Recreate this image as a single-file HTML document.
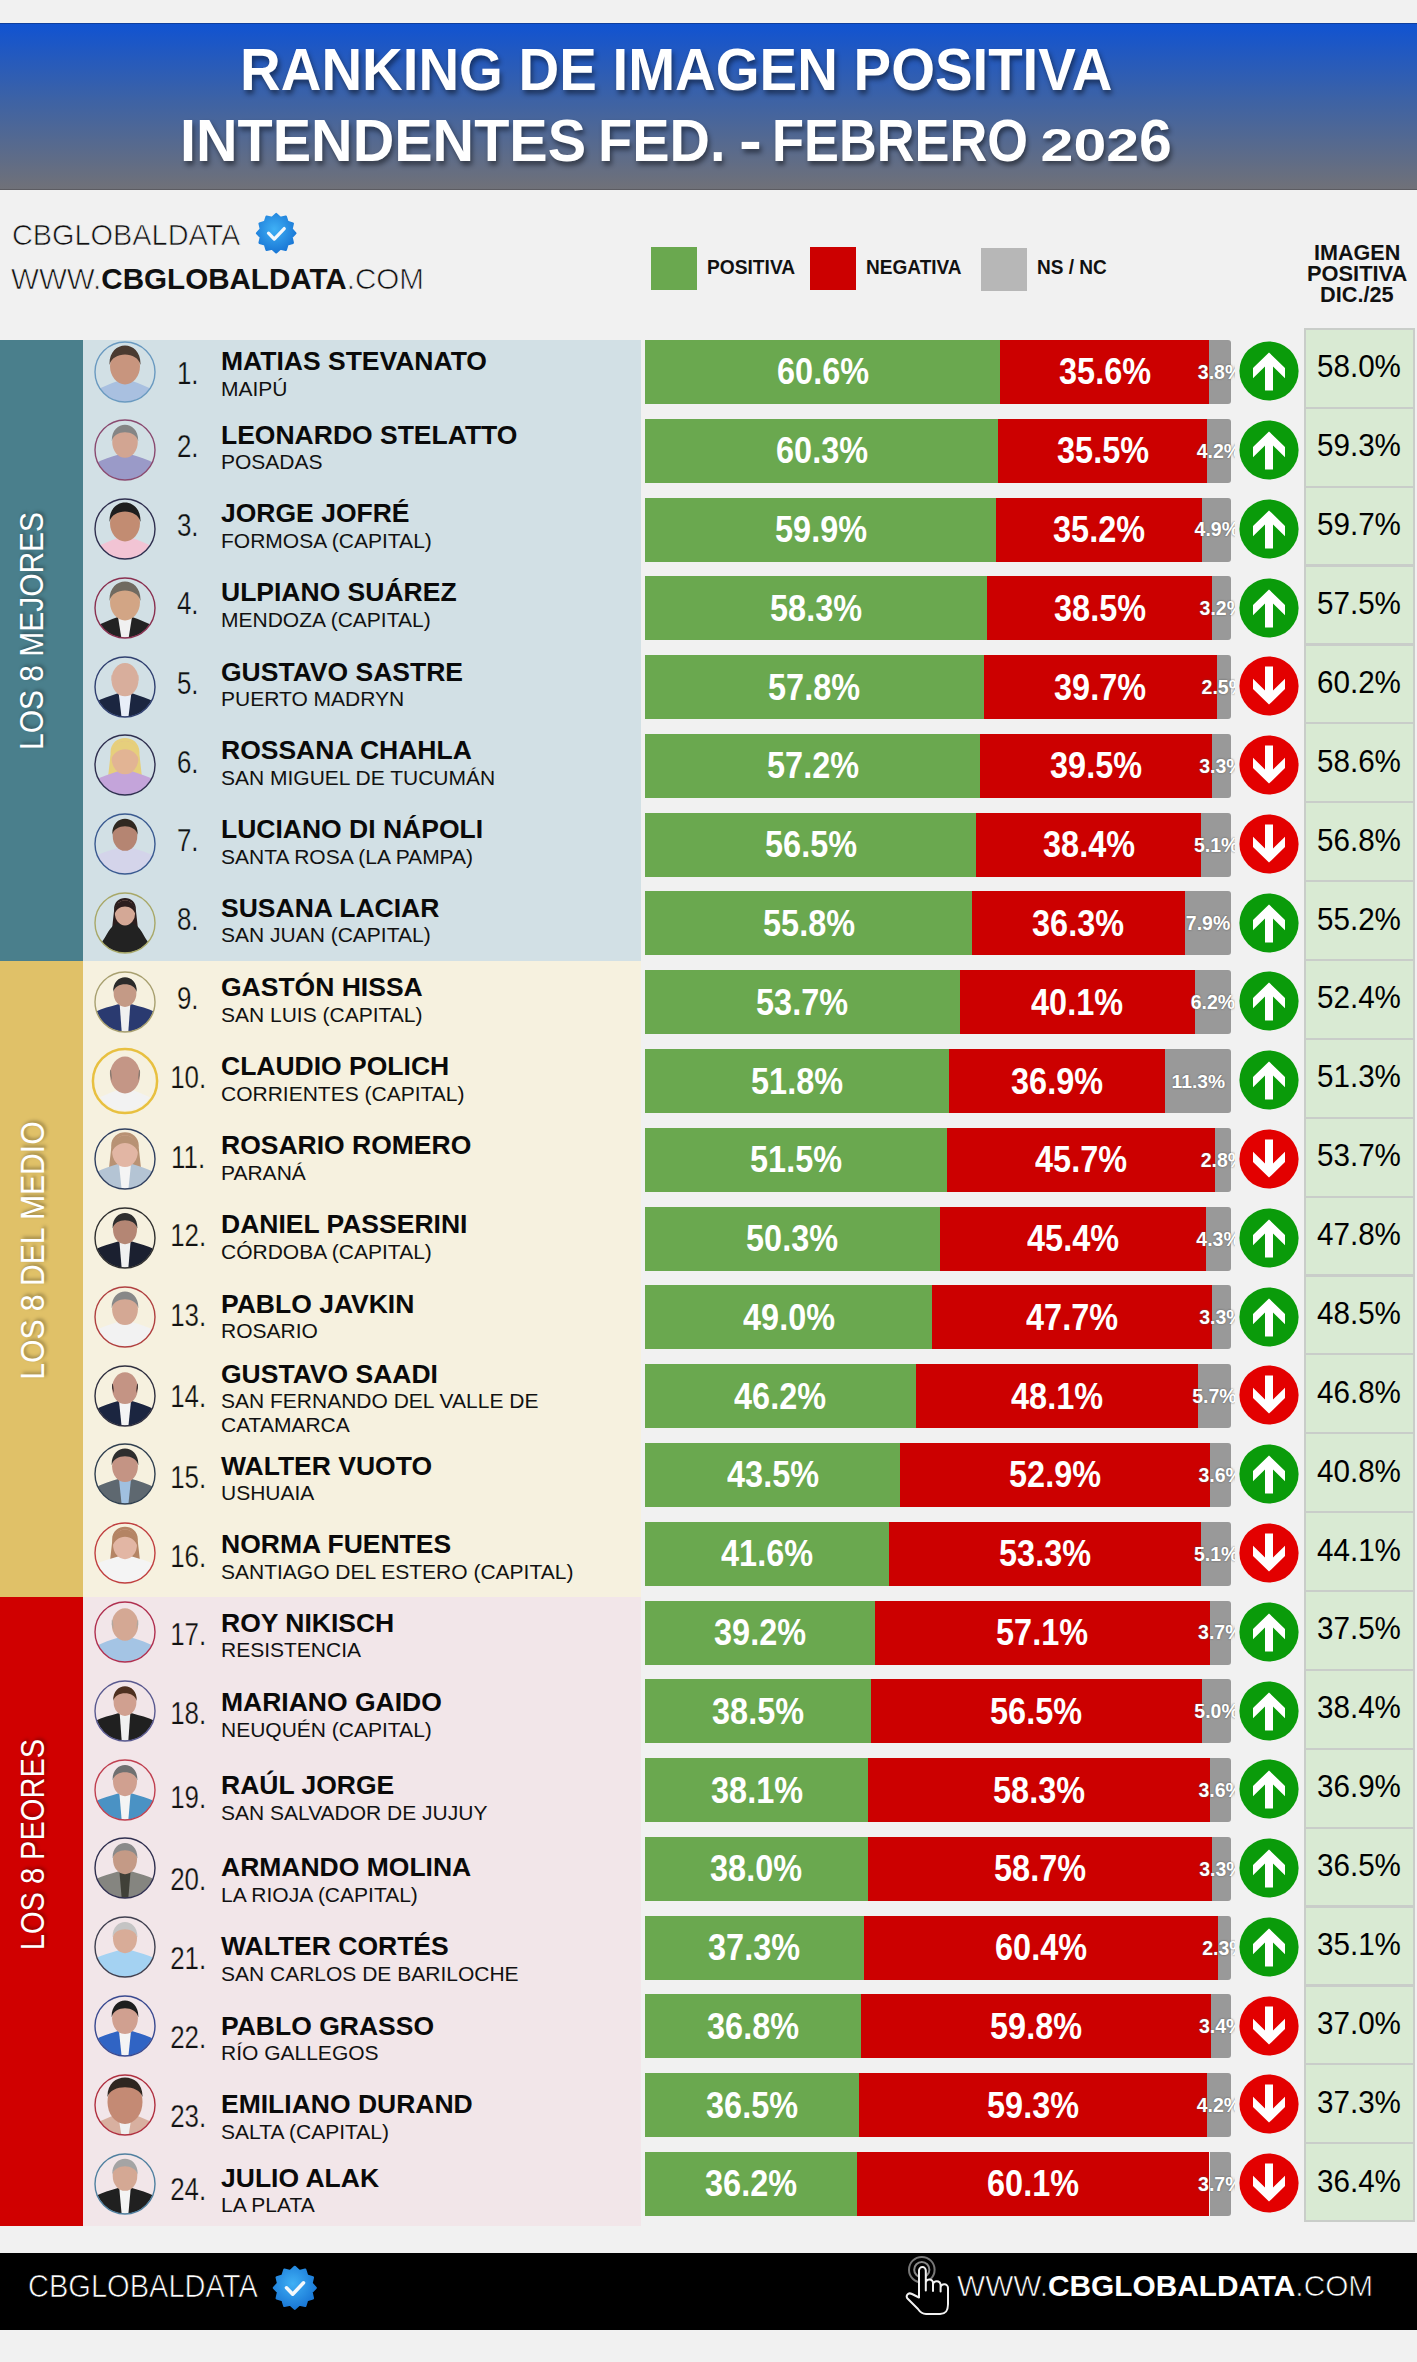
<!DOCTYPE html><html><head><meta charset="utf-8"><style>
*{margin:0;padding:0;box-sizing:border-box}
html,body{width:1417px;height:2362px;overflow:hidden;background:#f1f1f1;font-family:"Liberation Sans", sans-serif}
.t{position:absolute;white-space:nowrap;font-family:"Liberation Sans", sans-serif}
.b{position:absolute}
.ph{position:absolute;overflow:visible}
</style></head><body>
<div class="b" style="left:0;top:23px;width:1417px;height:167px;background:linear-gradient(#1153d1,#3c62a6 45%,#707178);border-top:1px solid #0f3f9e;border-bottom:1px solid #5c5c62"></div>
<div class="b" style="left:0;top:340px;width:83px;height:621px;background:#4a7f8c"></div>
<div class="b" style="left:83px;top:340px;width:557.6px;height:621px;background:#d2e0e5"></div>
<div class="b" style="left:0;top:961px;width:83px;height:636px;background:#e0c168"></div>
<div class="b" style="left:83px;top:961px;width:557.6px;height:636px;background:#f6f1df"></div>
<div class="b" style="left:0;top:1597px;width:83px;height:628.5px;background:#d00000"></div>
<div class="b" style="left:83px;top:1597px;width:557.6px;height:628.5px;background:#f2e6e9"></div>
<div class="b" style="left:1303.5px;top:328.4px;width:111.5px;height:1894px;background:#d9ead3;border:2px solid #c9cdc9"></div>
<div class="b" style="left:1304px;top:406.70px;width:110px;height:2.2px;background:#c9cdc9"></div>
<div class="b" style="left:1304px;top:485.58px;width:110px;height:2.2px;background:#c9cdc9"></div>
<div class="b" style="left:1304px;top:564.46px;width:110px;height:2.2px;background:#c9cdc9"></div>
<div class="b" style="left:1304px;top:643.35px;width:110px;height:2.2px;background:#c9cdc9"></div>
<div class="b" style="left:1304px;top:722.23px;width:110px;height:2.2px;background:#c9cdc9"></div>
<div class="b" style="left:1304px;top:801.11px;width:110px;height:2.2px;background:#c9cdc9"></div>
<div class="b" style="left:1304px;top:879.99px;width:110px;height:2.2px;background:#c9cdc9"></div>
<div class="b" style="left:1304px;top:958.87px;width:110px;height:2.2px;background:#c9cdc9"></div>
<div class="b" style="left:1304px;top:1037.75px;width:110px;height:2.2px;background:#c9cdc9"></div>
<div class="b" style="left:1304px;top:1116.64px;width:110px;height:2.2px;background:#c9cdc9"></div>
<div class="b" style="left:1304px;top:1195.52px;width:110px;height:2.2px;background:#c9cdc9"></div>
<div class="b" style="left:1304px;top:1274.40px;width:110px;height:2.2px;background:#c9cdc9"></div>
<div class="b" style="left:1304px;top:1353.28px;width:110px;height:2.2px;background:#c9cdc9"></div>
<div class="b" style="left:1304px;top:1432.16px;width:110px;height:2.2px;background:#c9cdc9"></div>
<div class="b" style="left:1304px;top:1511.05px;width:110px;height:2.2px;background:#c9cdc9"></div>
<div class="b" style="left:1304px;top:1589.93px;width:110px;height:2.2px;background:#c9cdc9"></div>
<div class="b" style="left:1304px;top:1668.81px;width:110px;height:2.2px;background:#c9cdc9"></div>
<div class="b" style="left:1304px;top:1747.69px;width:110px;height:2.2px;background:#c9cdc9"></div>
<div class="b" style="left:1304px;top:1826.57px;width:110px;height:2.2px;background:#c9cdc9"></div>
<div class="b" style="left:1304px;top:1905.45px;width:110px;height:2.2px;background:#c9cdc9"></div>
<div class="b" style="left:1304px;top:1984.34px;width:110px;height:2.2px;background:#c9cdc9"></div>
<div class="b" style="left:1304px;top:2063.22px;width:110px;height:2.2px;background:#c9cdc9"></div>
<div class="b" style="left:1304px;top:2142.10px;width:110px;height:2.2px;background:#c9cdc9"></div>
<div class="b" style="left:0;top:2252.5px;width:1417px;height:77.5px;background:#000"></div>
<div class="b" style="left:645.0px;top:340.00px;width:355.24px;height:64px;background:#6aa84f"></div>
<div class="b" style="left:1000.24px;top:340.00px;width:208.69px;height:64px;background:#cc0000"></div>
<div class="b" style="left:1208.92px;top:340.00px;width:22.28px;height:64px;background:#999999;border-radius:0 3px 3px 0"></div>
<svg class="ph" style="left:92.50px;top:339.50px" width="64" height="64" viewBox="-32 -32 64 64"><defs><clipPath id="c0"><circle r="29.7"/></clipPath></defs><g clip-path="url(#c0)"><path d="M-34,40 L-34,22.00 C-25.84,16.00 -16,12.00 -7,9.00 L7,9.00 C16,12.00 25.84,16.00 34,22.00 L34,40 Z" fill="#a9c0e0"/><g transform="translate(0,9.00) scale(1.0) translate(0,-9)"><rect x="-6.5" y="2" width="13" height="8" fill="#c8957e"/><ellipse cx="0" cy="-6" rx="15" ry="18.5" fill="#c8957e"/><path d="M-15.5,-7 C-16.5,-33 16.5,-33 15.5,-7 C12.5,-21 -12.5,-21 -15.5,-7 Z" fill="#4a3a30"/></g></g><circle r="30.0" fill="none" stroke="#6a9ac0" stroke-width="1.4"/></svg>
<svg class="ph" style="left:1238.20px;top:340.20px" width="62" height="62" viewBox="-31 -31 62 62"><circle r="29.6" fill="#0a9b0a"/><path d="M0,-18.6 L16,-3 L16,7.3 L4,-4.6 L4,19.5 L-4,19.5 L-4,-4.6 L-16,7.3 L-16,-3 Z" fill="#fff"/></svg>
<div class="b" style="left:645.0px;top:418.78px;width:353.48px;height:64px;background:#6aa84f"></div>
<div class="b" style="left:998.48px;top:418.78px;width:208.10px;height:64px;background:#cc0000"></div>
<div class="b" style="left:1206.58px;top:418.78px;width:24.62px;height:64px;background:#999999;border-radius:0 3px 3px 0"></div>
<svg class="ph" style="left:92.50px;top:418.28px" width="64" height="64" viewBox="-32 -32 64 64"><defs><clipPath id="c1"><circle r="29.7"/></clipPath></defs><g clip-path="url(#c1)"><path d="M-34,40 L-34,16.00 C-25.84,10.00 -16,7.80 -7,4.80 L7,4.80 C16,7.80 25.84,10.00 34,16.00 L34,40 Z" fill="#9a9ac8"/><g transform="translate(0,4.80) scale(0.85) translate(0,-9)"><rect x="-6.5" y="2" width="13" height="8" fill="#d2a592"/><ellipse cx="0" cy="-6" rx="15" ry="18.5" fill="#d2a592"/><path d="M-15.5,-7 C-16.5,-33 16.5,-33 15.5,-7 C12.5,-21 -12.5,-21 -15.5,-7 Z" fill="#858585"/></g></g><circle r="30.0" fill="none" stroke="#8a4a70" stroke-width="1.4"/></svg>
<svg class="ph" style="left:1238.20px;top:418.98px" width="62" height="62" viewBox="-31 -31 62 62"><circle r="29.6" fill="#0a9b0a"/><path d="M0,-18.6 L16,-3 L16,7.3 L4,-4.6 L4,19.5 L-4,19.5 L-4,-4.6 L-16,7.3 L-16,-3 Z" fill="#fff"/></svg>
<div class="b" style="left:645.0px;top:497.57px;width:351.13px;height:64px;background:#6aa84f"></div>
<div class="b" style="left:996.13px;top:497.57px;width:206.34px;height:64px;background:#cc0000"></div>
<div class="b" style="left:1202.48px;top:497.57px;width:28.72px;height:64px;background:#999999;border-radius:0 3px 3px 0"></div>
<svg class="ph" style="left:92.50px;top:497.07px" width="64" height="64" viewBox="-32 -32 64 64"><defs><clipPath id="c2"><circle r="29.7"/></clipPath></defs><g clip-path="url(#c2)"><path d="M-34,40 L-34,22.00 C-25.84,16.00 -16,12.00 -7,9.00 L7,9.00 C16,12.00 25.84,16.00 34,22.00 L34,40 Z" fill="#f2c4d4"/><g transform="translate(0,9.00) scale(1.0) translate(0,-9)"><rect x="-6.5" y="2" width="13" height="8" fill="#c28c72"/><ellipse cx="0" cy="-6" rx="15" ry="18.5" fill="#c28c72"/><path d="M-15.5,-7 C-16.5,-33 16.5,-33 15.5,-7 C12.5,-21 -12.5,-21 -15.5,-7 Z" fill="#1e1e1e"/></g></g><circle r="30.0" fill="none" stroke="#303050" stroke-width="1.4"/></svg>
<svg class="ph" style="left:1238.20px;top:497.77px" width="62" height="62" viewBox="-31 -31 62 62"><circle r="29.6" fill="#0a9b0a"/><path d="M0,-18.6 L16,-3 L16,7.3 L4,-4.6 L4,19.5 L-4,19.5 L-4,-4.6 L-16,7.3 L-16,-3 Z" fill="#fff"/></svg>
<div class="b" style="left:645.0px;top:576.35px;width:341.75px;height:64px;background:#6aa84f"></div>
<div class="b" style="left:986.75px;top:576.35px;width:225.69px;height:64px;background:#cc0000"></div>
<div class="b" style="left:1212.44px;top:576.35px;width:18.76px;height:64px;background:#999999;border-radius:0 3px 3px 0"></div>
<svg class="ph" style="left:92.50px;top:575.85px" width="64" height="64" viewBox="-32 -32 64 64"><defs><clipPath id="c3"><circle r="29.7"/></clipPath></defs><g clip-path="url(#c3)"><path d="M-34,40 L-34,22.00 C-25.84,16.00 -16,12.00 -7,9.00 L7,9.00 C16,12.00 25.84,16.00 34,22.00 L34,40 Z" fill="#222222"/><path d="M-7.00,9.00 L7.00,9.00 L3,34 L-3,34 Z" fill="#f0f0f0"/><g transform="translate(0,9.00) scale(1.0) translate(0,-9)"><rect x="-6.5" y="2" width="13" height="8" fill="#d2a585"/><ellipse cx="0" cy="-6" rx="15" ry="18.5" fill="#d2a585"/><path d="M-15.5,-7 C-16.5,-33 16.5,-33 15.5,-7 C12.5,-21 -12.5,-21 -15.5,-7 Z" fill="#706a60"/></g></g><circle r="30.0" fill="none" stroke="#8a3050" stroke-width="1.4"/></svg>
<svg class="ph" style="left:1238.20px;top:576.55px" width="62" height="62" viewBox="-31 -31 62 62"><circle r="29.6" fill="#0a9b0a"/><path d="M0,-18.6 L16,-3 L16,7.3 L4,-4.6 L4,19.5 L-4,19.5 L-4,-4.6 L-16,7.3 L-16,-3 Z" fill="#fff"/></svg>
<div class="b" style="left:645.0px;top:655.13px;width:338.82px;height:64px;background:#6aa84f"></div>
<div class="b" style="left:983.82px;top:655.13px;width:232.72px;height:64px;background:#cc0000"></div>
<div class="b" style="left:1216.55px;top:655.13px;width:14.65px;height:64px;background:#999999;border-radius:0 3px 3px 0"></div>
<svg class="ph" style="left:92.50px;top:654.63px" width="64" height="64" viewBox="-32 -32 64 64"><defs><clipPath id="c4"><circle r="29.7"/></clipPath></defs><g clip-path="url(#c4)"><path d="M-34,40 L-34,18.00 C-25.84,12.00 -16,9.20 -7,6.20 L7,6.20 C16,9.20 25.84,12.00 34,18.00 L34,40 Z" fill="#1b2640"/><path d="M-6.30,6.20 L6.30,6.20 L3,34 L-3,34 Z" fill="#e8eef8"/><g transform="translate(0,6.20) scale(0.9) translate(0,-9)"><rect x="-6.5" y="2" width="13" height="8" fill="#d8ae9c"/><ellipse cx="0" cy="-6" rx="15" ry="18.5" fill="#d8ae9c"/><path d="M-15,-6 C-15.5,-15 -13.5,-13 -13,0 Z" fill="#d8b0a0"/><path d="M15,-6 C15.5,-15 13.5,-13 13,0 Z" fill="#d8b0a0"/></g></g><circle r="30.0" fill="none" stroke="#304070" stroke-width="1.4"/></svg>
<svg class="ph" style="left:1238.20px;top:655.33px" width="62" height="62" viewBox="-31 -31 62 62"><circle r="29.6" fill="#e30000"/><path d="M0,-18.6 L16,-3 L16,7.3 L4,-4.6 L4,19.5 L-4,19.5 L-4,-4.6 L-16,7.3 L-16,-3 Z" fill="#fff" transform="rotate(180)"/></svg>
<div class="b" style="left:645.0px;top:733.91px;width:335.31px;height:64px;background:#6aa84f"></div>
<div class="b" style="left:980.31px;top:733.91px;width:231.55px;height:64px;background:#cc0000"></div>
<div class="b" style="left:1211.86px;top:733.91px;width:19.34px;height:64px;background:#999999;border-radius:0 3px 3px 0"></div>
<svg class="ph" style="left:92.50px;top:733.41px" width="64" height="64" viewBox="-32 -32 64 64"><defs><clipPath id="c5"><circle r="29.7"/></clipPath></defs><g clip-path="url(#c5)"><g transform="translate(0,6.20) scale(0.9) translate(0,-9)"><path d="M-16,-10 C-18,-34 18,-34 16,-10 L20,26 L-20,26 Z" fill="#e6cf7c"/></g><path d="M-34,40 L-34,18.00 C-25.84,12.00 -16,9.20 -7,6.20 L7,6.20 C16,9.20 25.84,12.00 34,18.00 L34,40 Z" fill="#c4a4da"/><g transform="translate(0,6.20) scale(0.9) translate(0,-9)"><rect x="-6.5" y="2" width="13" height="8" fill="#e2b494"/><ellipse cx="0" cy="-6" rx="15" ry="18.5" fill="#e2b494"/><path d="M-16,-2 C-17,-32 17,-32 16,-2 C12,-20 -12,-20 -16,-2 Z" fill="#e6cf7c"/></g></g><circle r="30.0" fill="none" stroke="#303050" stroke-width="1.4"/></svg>
<svg class="ph" style="left:1238.20px;top:734.11px" width="62" height="62" viewBox="-31 -31 62 62"><circle r="29.6" fill="#e30000"/><path d="M0,-18.6 L16,-3 L16,7.3 L4,-4.6 L4,19.5 L-4,19.5 L-4,-4.6 L-16,7.3 L-16,-3 Z" fill="#fff" transform="rotate(180)"/></svg>
<div class="b" style="left:645.0px;top:812.70px;width:331.20px;height:64px;background:#6aa84f"></div>
<div class="b" style="left:976.20px;top:812.70px;width:225.10px;height:64px;background:#cc0000"></div>
<div class="b" style="left:1201.30px;top:812.70px;width:29.90px;height:64px;background:#999999;border-radius:0 3px 3px 0"></div>
<svg class="ph" style="left:92.50px;top:812.20px" width="64" height="64" viewBox="-32 -32 64 64"><defs><clipPath id="c6"><circle r="29.7"/></clipPath></defs><g clip-path="url(#c6)"><path d="M-34,40 L-34,14.80 C-25.84,8.80 -16,6.96 -7,3.96 L7,3.96 C16,6.96 25.84,8.80 34,14.80 L34,40 Z" fill="#d4d4ea"/><g transform="translate(0,3.96) scale(0.82) translate(0,-9)"><rect x="-6.5" y="2" width="13" height="8" fill="#b58572"/><ellipse cx="0" cy="-6" rx="15" ry="18.5" fill="#b58572"/><path d="M-15.5,-7 C-16.5,-33 16.5,-33 15.5,-7 C12.5,-21 -12.5,-21 -15.5,-7 Z" fill="#302820"/></g></g><circle r="30.0" fill="none" stroke="#3a5a90" stroke-width="1.4"/></svg>
<svg class="ph" style="left:1238.20px;top:812.90px" width="62" height="62" viewBox="-31 -31 62 62"><circle r="29.6" fill="#e30000"/><path d="M0,-18.6 L16,-3 L16,7.3 L4,-4.6 L4,19.5 L-4,19.5 L-4,-4.6 L-16,7.3 L-16,-3 Z" fill="#fff" transform="rotate(180)"/></svg>
<div class="b" style="left:645.0px;top:891.48px;width:327.10px;height:64px;background:#6aa84f"></div>
<div class="b" style="left:972.10px;top:891.48px;width:212.79px;height:64px;background:#cc0000"></div>
<div class="b" style="left:1184.89px;top:891.48px;width:46.31px;height:64px;background:#999999;border-radius:0 3px 3px 0"></div>
<svg class="ph" style="left:92.50px;top:890.98px" width="64" height="64" viewBox="-32 -32 64 64"><defs><clipPath id="c7"><circle r="29.7"/></clipPath></defs><g clip-path="url(#c7)"><g transform="translate(0,0.04) scale(0.68) translate(0,-9)"><path d="M-16,-10 C-18,-34 18,-34 16,-10 L20,26 L-20,26 Z" fill="#2c1e1e"/></g><path d="M-24,40 L-24,20.00 C-18.24,14.00 -16,3.04 -7,0.04 L7,0.04 C16,3.04 18.24,14.00 24,20.00 L24,40 Z" fill="#222222"/><g transform="translate(0,0.04) scale(0.68) translate(0,-9)"><rect x="-6.5" y="2" width="13" height="8" fill="#d4a896"/><ellipse cx="0" cy="-6" rx="15" ry="18.5" fill="#d4a896"/><path d="M-16,-2 C-17,-32 17,-32 16,-2 C12,-20 -12,-20 -16,-2 Z" fill="#2c1e1e"/></g></g><circle r="30.0" fill="none" stroke="#a8a868" stroke-width="1.4"/></svg>
<svg class="ph" style="left:1238.20px;top:891.68px" width="62" height="62" viewBox="-31 -31 62 62"><circle r="29.6" fill="#0a9b0a"/><path d="M0,-18.6 L16,-3 L16,7.3 L4,-4.6 L4,19.5 L-4,19.5 L-4,-4.6 L-16,7.3 L-16,-3 Z" fill="#fff"/></svg>
<div class="b" style="left:645.0px;top:970.26px;width:314.79px;height:64px;background:#6aa84f"></div>
<div class="b" style="left:959.79px;top:970.26px;width:235.07px;height:64px;background:#cc0000"></div>
<div class="b" style="left:1194.86px;top:970.26px;width:36.34px;height:64px;background:#999999;border-radius:0 3px 3px 0"></div>
<svg class="ph" style="left:92.50px;top:969.76px" width="64" height="64" viewBox="-32 -32 64 64"><defs><clipPath id="c8"><circle r="29.7"/></clipPath></defs><g clip-path="url(#c8)"><path d="M-34,40 L-34,12.40 C-25.84,6.40 -16,5.28 -7,2.28 L7,2.28 C16,5.28 25.84,6.40 34,12.40 L34,40 Z" fill="#2a3a70"/><path d="M-5.32,2.28 L5.32,2.28 L3,34 L-3,34 Z" fill="#f0f0f0"/><g transform="translate(0,2.28) scale(0.76) translate(0,-9)"><rect x="-6.5" y="2" width="13" height="8" fill="#c49a86"/><ellipse cx="0" cy="-6" rx="15" ry="18.5" fill="#c49a86"/><path d="M-15.5,-7 C-16.5,-33 16.5,-33 15.5,-7 C12.5,-21 -12.5,-21 -15.5,-7 Z" fill="#2a2a2a"/></g></g><circle r="30.0" fill="none" stroke="#a8a070" stroke-width="1.4"/></svg>
<svg class="ph" style="left:1238.20px;top:970.46px" width="62" height="62" viewBox="-31 -31 62 62"><circle r="29.6" fill="#0a9b0a"/><path d="M0,-18.6 L16,-3 L16,7.3 L4,-4.6 L4,19.5 L-4,19.5 L-4,-4.6 L-16,7.3 L-16,-3 Z" fill="#fff"/></svg>
<div class="b" style="left:645.0px;top:1049.04px;width:303.65px;height:64px;background:#6aa84f"></div>
<div class="b" style="left:948.65px;top:1049.04px;width:216.31px;height:64px;background:#cc0000"></div>
<div class="b" style="left:1164.96px;top:1049.04px;width:66.24px;height:64px;background:#999999;border-radius:0 3px 3px 0"></div>
<svg class="ph" style="left:92.50px;top:1048.54px" width="64" height="64" viewBox="-32 -32 64 64"><defs><clipPath id="c9"><circle r="29.7"/></clipPath></defs><g clip-path="url(#c9)"><path d="M-34,40 L-34,22.00 C-25.84,16.00 -16,12.00 -7,9.00 L7,9.00 C16,12.00 25.84,16.00 34,22.00 L34,40 Z" fill="#f2f2f2"/><g transform="translate(0,9.00) scale(1.0) translate(0,-9)"><rect x="-6.5" y="2" width="13" height="8" fill="#c49686"/><ellipse cx="0" cy="-6" rx="15" ry="18.5" fill="#c49686"/><path d="M-15,-6 C-15.5,-15 -13.5,-13 -13,0 Z" fill="#8a7a70"/><path d="M15,-6 C15.5,-15 13.5,-13 13,0 Z" fill="#8a7a70"/></g></g><circle r="32.1" fill="none" stroke="#e8c040" stroke-width="2.5"/></svg>
<svg class="ph" style="left:1238.20px;top:1049.24px" width="62" height="62" viewBox="-31 -31 62 62"><circle r="29.6" fill="#0a9b0a"/><path d="M0,-18.6 L16,-3 L16,7.3 L4,-4.6 L4,19.5 L-4,19.5 L-4,-4.6 L-16,7.3 L-16,-3 Z" fill="#fff"/></svg>
<div class="b" style="left:645.0px;top:1127.83px;width:301.89px;height:64px;background:#6aa84f"></div>
<div class="b" style="left:946.89px;top:1127.83px;width:267.89px;height:64px;background:#cc0000"></div>
<div class="b" style="left:1214.79px;top:1127.83px;width:16.41px;height:64px;background:#999999;border-radius:0 3px 3px 0"></div>
<svg class="ph" style="left:92.50px;top:1127.33px" width="64" height="64" viewBox="-32 -32 64 64"><defs><clipPath id="c10"><circle r="29.7"/></clipPath></defs><g clip-path="url(#c10)"><g transform="translate(0,5.08) scale(0.86) translate(0,-9)"><path d="M-16,-10 C-18,-34 18,-34 16,-10 L20,26 L-20,26 Z" fill="#b89274"/></g><path d="M-34,40 L-34,16.40 C-25.84,10.40 -16,8.08 -7,5.08 L7,5.08 C16,8.08 25.84,10.40 34,16.40 L34,40 Z" fill="#b4c4d4"/><path d="M-6.02,5.08 L6.02,5.08 L3,34 L-3,34 Z" fill="#f4f4f4"/><g transform="translate(0,5.08) scale(0.86) translate(0,-9)"><rect x="-6.5" y="2" width="13" height="8" fill="#e2b6a4"/><ellipse cx="0" cy="-6" rx="15" ry="18.5" fill="#e2b6a4"/><path d="M-16,-2 C-17,-32 17,-32 16,-2 C12,-20 -12,-20 -16,-2 Z" fill="#b89274"/></g></g><circle r="30.0" fill="none" stroke="#304060" stroke-width="1.4"/></svg>
<svg class="ph" style="left:1238.20px;top:1128.03px" width="62" height="62" viewBox="-31 -31 62 62"><circle r="29.6" fill="#e30000"/><path d="M0,-18.6 L16,-3 L16,7.3 L4,-4.6 L4,19.5 L-4,19.5 L-4,-4.6 L-16,7.3 L-16,-3 Z" fill="#fff" transform="rotate(180)"/></svg>
<div class="b" style="left:645.0px;top:1206.61px;width:294.86px;height:64px;background:#6aa84f"></div>
<div class="b" style="left:939.86px;top:1206.61px;width:266.13px;height:64px;background:#cc0000"></div>
<div class="b" style="left:1205.99px;top:1206.61px;width:25.21px;height:64px;background:#999999;border-radius:0 3px 3px 0"></div>
<svg class="ph" style="left:92.50px;top:1206.11px" width="64" height="64" viewBox="-32 -32 64 64"><defs><clipPath id="c11"><circle r="29.7"/></clipPath></defs><g clip-path="url(#c11)"><path d="M-34,40 L-34,14.00 C-25.84,8.00 -16,6.40 -7,3.40 L7,3.40 C16,6.40 25.84,8.00 34,14.00 L34,40 Z" fill="#1b2030"/><path d="M-5.60,3.40 L5.60,3.40 L3,34 L-3,34 Z" fill="#f0f0f0"/><g transform="translate(0,3.40) scale(0.8) translate(0,-9)"><rect x="-6.5" y="2" width="13" height="8" fill="#b48674"/><ellipse cx="0" cy="-6" rx="15" ry="18.5" fill="#b48674"/><path d="M-15.5,-7 C-16.5,-33 16.5,-33 15.5,-7 C12.5,-21 -12.5,-21 -15.5,-7 Z" fill="#2e2e2e"/></g></g><circle r="30.0" fill="none" stroke="#303030" stroke-width="1.4"/></svg>
<svg class="ph" style="left:1238.20px;top:1206.81px" width="62" height="62" viewBox="-31 -31 62 62"><circle r="29.6" fill="#0a9b0a"/><path d="M0,-18.6 L16,-3 L16,7.3 L4,-4.6 L4,19.5 L-4,19.5 L-4,-4.6 L-16,7.3 L-16,-3 Z" fill="#fff"/></svg>
<div class="b" style="left:645.0px;top:1285.39px;width:287.24px;height:64px;background:#6aa84f"></div>
<div class="b" style="left:932.24px;top:1285.39px;width:279.62px;height:64px;background:#cc0000"></div>
<div class="b" style="left:1211.86px;top:1285.39px;width:19.34px;height:64px;background:#999999;border-radius:0 3px 3px 0"></div>
<svg class="ph" style="left:92.50px;top:1284.89px" width="64" height="64" viewBox="-32 -32 64 64"><defs><clipPath id="c12"><circle r="29.7"/></clipPath></defs><g clip-path="url(#c12)"><path d="M-34,40 L-34,16.40 C-25.84,10.40 -16,8.08 -7,5.08 L7,5.08 C16,8.08 25.84,10.40 34,16.40 L34,40 Z" fill="#f2f2f2"/><g transform="translate(0,5.08) scale(0.86) translate(0,-9)"><rect x="-6.5" y="2" width="13" height="8" fill="#d4a894"/><ellipse cx="0" cy="-6" rx="15" ry="18.5" fill="#d4a894"/><path d="M-15.5,-7 C-16.5,-33 16.5,-33 15.5,-7 C12.5,-21 -12.5,-21 -15.5,-7 Z" fill="#888888"/></g></g><circle r="30.0" fill="none" stroke="#b04040" stroke-width="1.4"/></svg>
<svg class="ph" style="left:1238.20px;top:1285.59px" width="62" height="62" viewBox="-31 -31 62 62"><circle r="29.6" fill="#0a9b0a"/><path d="M0,-18.6 L16,-3 L16,7.3 L4,-4.6 L4,19.5 L-4,19.5 L-4,-4.6 L-16,7.3 L-16,-3 Z" fill="#fff"/></svg>
<div class="b" style="left:645.0px;top:1364.17px;width:270.82px;height:64px;background:#6aa84f"></div>
<div class="b" style="left:915.82px;top:1364.17px;width:281.96px;height:64px;background:#cc0000"></div>
<div class="b" style="left:1197.79px;top:1364.17px;width:33.41px;height:64px;background:#999999;border-radius:0 3px 3px 0"></div>
<svg class="ph" style="left:92.50px;top:1363.67px" width="64" height="64" viewBox="-32 -32 64 64"><defs><clipPath id="c13"><circle r="29.7"/></clipPath></defs><g clip-path="url(#c13)"><path d="M-34,40 L-34,16.40 C-25.84,10.40 -16,8.08 -7,5.08 L7,5.08 C16,8.08 25.84,10.40 34,16.40 L34,40 Z" fill="#1b2540"/><path d="M-6.02,5.08 L6.02,5.08 L3,34 L-3,34 Z" fill="#f4f4f4"/><g transform="translate(0,5.08) scale(0.86) translate(0,-9)"><rect x="-6.5" y="2" width="13" height="8" fill="#c49484"/><ellipse cx="0" cy="-6" rx="15" ry="18.5" fill="#c49484"/><path d="M-15,-6 C-15.5,-15 -13.5,-13 -13,0 Z" fill="#3a3030"/><path d="M15,-6 C15.5,-15 13.5,-13 13,0 Z" fill="#3a3030"/></g></g><circle r="30.0" fill="none" stroke="#303040" stroke-width="1.4"/></svg>
<svg class="ph" style="left:1238.20px;top:1364.37px" width="62" height="62" viewBox="-31 -31 62 62"><circle r="29.6" fill="#e30000"/><path d="M0,-18.6 L16,-3 L16,7.3 L4,-4.6 L4,19.5 L-4,19.5 L-4,-4.6 L-16,7.3 L-16,-3 Z" fill="#fff" transform="rotate(180)"/></svg>
<div class="b" style="left:645.0px;top:1442.96px;width:255.00px;height:64px;background:#6aa84f"></div>
<div class="b" style="left:900.00px;top:1442.96px;width:310.10px;height:64px;background:#cc0000"></div>
<div class="b" style="left:1210.10px;top:1442.96px;width:21.10px;height:64px;background:#999999;border-radius:0 3px 3px 0"></div>
<svg class="ph" style="left:92.50px;top:1442.46px" width="64" height="64" viewBox="-32 -32 64 64"><defs><clipPath id="c14"><circle r="29.7"/></clipPath></defs><g clip-path="url(#c14)"><path d="M-34,40 L-34,16.40 C-25.84,10.40 -16,8.08 -7,5.08 L7,5.08 C16,8.08 25.84,10.40 34,16.40 L34,40 Z" fill="#5e6870"/><path d="M-6.02,5.08 L6.02,5.08 L3,34 L-3,34 Z" fill="#a0c0e0"/><g transform="translate(0,5.08) scale(0.86) translate(0,-9)"><rect x="-6.5" y="2" width="13" height="8" fill="#c49484"/><ellipse cx="0" cy="-6" rx="15" ry="18.5" fill="#c49484"/><path d="M-15.5,-7 C-16.5,-33 16.5,-33 15.5,-7 C12.5,-21 -12.5,-21 -15.5,-7 Z" fill="#2e2e2e"/></g></g><circle r="30.0" fill="none" stroke="#304050" stroke-width="1.4"/></svg>
<svg class="ph" style="left:1238.20px;top:1443.16px" width="62" height="62" viewBox="-31 -31 62 62"><circle r="29.6" fill="#0a9b0a"/><path d="M0,-18.6 L16,-3 L16,7.3 L4,-4.6 L4,19.5 L-4,19.5 L-4,-4.6 L-16,7.3 L-16,-3 Z" fill="#fff"/></svg>
<div class="b" style="left:645.0px;top:1521.74px;width:243.86px;height:64px;background:#6aa84f"></div>
<div class="b" style="left:888.86px;top:1521.74px;width:312.44px;height:64px;background:#cc0000"></div>
<div class="b" style="left:1201.30px;top:1521.74px;width:29.90px;height:64px;background:#999999;border-radius:0 3px 3px 0"></div>
<svg class="ph" style="left:92.50px;top:1521.24px" width="64" height="64" viewBox="-32 -32 64 64"><defs><clipPath id="c15"><circle r="29.7"/></clipPath></defs><g clip-path="url(#c15)"><g transform="translate(0,3.40) scale(0.8) translate(0,-9)"><path d="M-16,-10 C-18,-34 18,-34 16,-10 L20,26 L-20,26 Z" fill="#b48464"/></g><path d="M-34,40 L-34,14.00 C-25.84,8.00 -16,6.40 -7,3.40 L7,3.40 C16,6.40 25.84,8.00 34,14.00 L34,40 Z" fill="#f4f4f4"/><g transform="translate(0,3.40) scale(0.8) translate(0,-9)"><rect x="-6.5" y="2" width="13" height="8" fill="#e2b6a4"/><ellipse cx="0" cy="-6" rx="15" ry="18.5" fill="#e2b6a4"/><path d="M-16,-2 C-17,-32 17,-32 16,-2 C12,-20 -12,-20 -16,-2 Z" fill="#b48464"/></g></g><circle r="30.0" fill="none" stroke="#c04040" stroke-width="1.4"/></svg>
<svg class="ph" style="left:1238.20px;top:1521.94px" width="62" height="62" viewBox="-31 -31 62 62"><circle r="29.6" fill="#e30000"/><path d="M0,-18.6 L16,-3 L16,7.3 L4,-4.6 L4,19.5 L-4,19.5 L-4,-4.6 L-16,7.3 L-16,-3 Z" fill="#fff" transform="rotate(180)"/></svg>
<div class="b" style="left:645.0px;top:1600.52px;width:229.79px;height:64px;background:#6aa84f"></div>
<div class="b" style="left:874.79px;top:1600.52px;width:334.72px;height:64px;background:#cc0000"></div>
<div class="b" style="left:1209.51px;top:1600.52px;width:21.69px;height:64px;background:#999999;border-radius:0 3px 3px 0"></div>
<svg class="ph" style="left:92.50px;top:1600.02px" width="64" height="64" viewBox="-32 -32 64 64"><defs><clipPath id="c16"><circle r="29.7"/></clipPath></defs><g clip-path="url(#c16)"><path d="M-34,40 L-34,17.20 C-25.84,11.20 -16,8.64 -7,5.64 L7,5.64 C16,8.64 25.84,11.20 34,17.20 L34,40 Z" fill="#a4c4e4"/><g transform="translate(0,5.64) scale(0.88) translate(0,-9)"><rect x="-6.5" y="2" width="13" height="8" fill="#d4a894"/><ellipse cx="0" cy="-6" rx="15" ry="18.5" fill="#d4a894"/><path d="M-15,-6 C-15.5,-15 -13.5,-13 -13,0 Z" fill="#b0a8a0"/><path d="M15,-6 C15.5,-15 13.5,-13 13,0 Z" fill="#b0a8a0"/></g></g><circle r="30.0" fill="none" stroke="#b03050" stroke-width="1.4"/></svg>
<svg class="ph" style="left:1238.20px;top:1600.72px" width="62" height="62" viewBox="-31 -31 62 62"><circle r="29.6" fill="#0a9b0a"/><path d="M0,-18.6 L16,-3 L16,7.3 L4,-4.6 L4,19.5 L-4,19.5 L-4,-4.6 L-16,7.3 L-16,-3 Z" fill="#fff"/></svg>
<div class="b" style="left:645.0px;top:1679.30px;width:225.69px;height:64px;background:#6aa84f"></div>
<div class="b" style="left:870.69px;top:1679.30px;width:331.20px;height:64px;background:#cc0000"></div>
<div class="b" style="left:1201.89px;top:1679.30px;width:29.31px;height:64px;background:#999999;border-radius:0 3px 3px 0"></div>
<svg class="ph" style="left:92.50px;top:1678.80px" width="64" height="64" viewBox="-32 -32 64 64"><defs><clipPath id="c17"><circle r="29.7"/></clipPath></defs><g clip-path="url(#c17)"><path d="M-34,40 L-34,12.40 C-25.84,6.40 -16,5.28 -7,2.28 L7,2.28 C16,5.28 25.84,6.40 34,12.40 L34,40 Z" fill="#202020"/><path d="M-5.32,2.28 L5.32,2.28 L3,34 L-3,34 Z" fill="#f0f0f0"/><g transform="translate(0,2.28) scale(0.76) translate(0,-9)"><rect x="-6.5" y="2" width="13" height="8" fill="#d0a090"/><ellipse cx="0" cy="-6" rx="15" ry="18.5" fill="#d0a090"/><path d="M-15.5,-7 C-16.5,-33 16.5,-33 15.5,-7 C12.5,-21 -12.5,-21 -15.5,-7 Z" fill="#4e3020"/></g></g><circle r="30.0" fill="none" stroke="#5a5a90" stroke-width="1.4"/></svg>
<svg class="ph" style="left:1238.20px;top:1679.50px" width="62" height="62" viewBox="-31 -31 62 62"><circle r="29.6" fill="#0a9b0a"/><path d="M0,-18.6 L16,-3 L16,7.3 L4,-4.6 L4,19.5 L-4,19.5 L-4,-4.6 L-16,7.3 L-16,-3 Z" fill="#fff"/></svg>
<div class="b" style="left:645.0px;top:1758.09px;width:223.34px;height:64px;background:#6aa84f"></div>
<div class="b" style="left:868.34px;top:1758.09px;width:341.75px;height:64px;background:#cc0000"></div>
<div class="b" style="left:1210.10px;top:1758.09px;width:21.10px;height:64px;background:#999999;border-radius:0 3px 3px 0"></div>
<svg class="ph" style="left:92.50px;top:1757.59px" width="64" height="64" viewBox="-32 -32 64 64"><defs><clipPath id="c18"><circle r="29.7"/></clipPath></defs><g clip-path="url(#c18)"><path d="M-34,40 L-34,14.00 C-25.84,8.00 -16,6.40 -7,3.40 L7,3.40 C16,6.40 25.84,8.00 34,14.00 L34,40 Z" fill="#4a92c4"/><path d="M-5.60,3.40 L5.60,3.40 L3,34 L-3,34 Z" fill="#f4f4f4"/><g transform="translate(0,3.40) scale(0.8) translate(0,-9)"><rect x="-6.5" y="2" width="13" height="8" fill="#d0a090"/><ellipse cx="0" cy="-6" rx="15" ry="18.5" fill="#d0a090"/><path d="M-15.5,-7 C-16.5,-33 16.5,-33 15.5,-7 C12.5,-21 -12.5,-21 -15.5,-7 Z" fill="#707070"/></g></g><circle r="30.0" fill="none" stroke="#c04050" stroke-width="1.4"/></svg>
<svg class="ph" style="left:1238.20px;top:1758.29px" width="62" height="62" viewBox="-31 -31 62 62"><circle r="29.6" fill="#0a9b0a"/><path d="M0,-18.6 L16,-3 L16,7.3 L4,-4.6 L4,19.5 L-4,19.5 L-4,-4.6 L-16,7.3 L-16,-3 Z" fill="#fff"/></svg>
<div class="b" style="left:645.0px;top:1836.87px;width:222.76px;height:64px;background:#6aa84f"></div>
<div class="b" style="left:867.76px;top:1836.87px;width:344.10px;height:64px;background:#cc0000"></div>
<div class="b" style="left:1211.86px;top:1836.87px;width:19.34px;height:64px;background:#999999;border-radius:0 3px 3px 0"></div>
<svg class="ph" style="left:92.50px;top:1836.37px" width="64" height="64" viewBox="-32 -32 64 64"><defs><clipPath id="c19"><circle r="29.7"/></clipPath></defs><g clip-path="url(#c19)"><path d="M-34,40 L-34,14.00 C-25.84,8.00 -16,6.40 -7,3.40 L7,3.40 C16,6.40 25.84,8.00 34,14.00 L34,40 Z" fill="#858580"/><path d="M-5.60,3.40 L5.60,3.40 L3,34 L-3,34 Z" fill="#404038"/><g transform="translate(0,3.40) scale(0.8) translate(0,-9)"><rect x="-6.5" y="2" width="13" height="8" fill="#c49a86"/><ellipse cx="0" cy="-6" rx="15" ry="18.5" fill="#c49a86"/><path d="M-15.5,-7 C-16.5,-33 16.5,-33 15.5,-7 C12.5,-21 -12.5,-21 -15.5,-7 Z" fill="#8a8a8a"/></g></g><circle r="30.0" fill="none" stroke="#303050" stroke-width="1.4"/></svg>
<svg class="ph" style="left:1238.20px;top:1837.07px" width="62" height="62" viewBox="-31 -31 62 62"><circle r="29.6" fill="#0a9b0a"/><path d="M0,-18.6 L16,-3 L16,7.3 L4,-4.6 L4,19.5 L-4,19.5 L-4,-4.6 L-16,7.3 L-16,-3 Z" fill="#fff"/></svg>
<div class="b" style="left:645.0px;top:1915.65px;width:218.65px;height:64px;background:#6aa84f"></div>
<div class="b" style="left:863.65px;top:1915.65px;width:354.06px;height:64px;background:#cc0000"></div>
<div class="b" style="left:1217.72px;top:1915.65px;width:13.48px;height:64px;background:#999999;border-radius:0 3px 3px 0"></div>
<svg class="ph" style="left:92.50px;top:1915.15px" width="64" height="64" viewBox="-32 -32 64 64"><defs><clipPath id="c20"><circle r="29.7"/></clipPath></defs><g clip-path="url(#c20)"><path d="M-34,40 L-34,14.00 C-25.84,8.00 -16,6.40 -7,3.40 L7,3.40 C16,6.40 25.84,8.00 34,14.00 L34,40 Z" fill="#a4d2f2"/><g transform="translate(0,3.40) scale(0.8) translate(0,-9)"><rect x="-6.5" y="2" width="13" height="8" fill="#d8ac98"/><ellipse cx="0" cy="-6" rx="15" ry="18.5" fill="#d8ac98"/><path d="M-15.5,-7 C-16.5,-33 16.5,-33 15.5,-7 C12.5,-21 -12.5,-21 -15.5,-7 Z" fill="#c4c4c4"/></g></g><circle r="30.0" fill="none" stroke="#404050" stroke-width="1.4"/></svg>
<svg class="ph" style="left:1238.20px;top:1915.85px" width="62" height="62" viewBox="-31 -31 62 62"><circle r="29.6" fill="#0a9b0a"/><path d="M0,-18.6 L16,-3 L16,7.3 L4,-4.6 L4,19.5 L-4,19.5 L-4,-4.6 L-16,7.3 L-16,-3 Z" fill="#fff"/></svg>
<div class="b" style="left:645.0px;top:1994.43px;width:215.72px;height:64px;background:#6aa84f"></div>
<div class="b" style="left:860.72px;top:1994.43px;width:350.55px;height:64px;background:#cc0000"></div>
<div class="b" style="left:1211.27px;top:1994.43px;width:19.93px;height:64px;background:#999999;border-radius:0 3px 3px 0"></div>
<svg class="ph" style="left:92.50px;top:1993.93px" width="64" height="64" viewBox="-32 -32 64 64"><defs><clipPath id="c21"><circle r="29.7"/></clipPath></defs><g clip-path="url(#c21)"><path d="M-34,40 L-34,16.40 C-25.84,10.40 -16,8.08 -7,5.08 L7,5.08 C16,8.08 25.84,10.40 34,16.40 L34,40 Z" fill="#3064c4"/><path d="M-6.02,5.08 L6.02,5.08 L3,34 L-3,34 Z" fill="#f4f4f4"/><g transform="translate(0,5.08) scale(0.86) translate(0,-9)"><rect x="-6.5" y="2" width="13" height="8" fill="#d0a090"/><ellipse cx="0" cy="-6" rx="15" ry="18.5" fill="#d0a090"/><path d="M-15.5,-7 C-16.5,-33 16.5,-33 15.5,-7 C12.5,-21 -12.5,-21 -15.5,-7 Z" fill="#1e1e1e"/></g></g><circle r="30.0" fill="none" stroke="#3a4a90" stroke-width="1.4"/></svg>
<svg class="ph" style="left:1238.20px;top:1994.63px" width="62" height="62" viewBox="-31 -31 62 62"><circle r="29.6" fill="#e30000"/><path d="M0,-18.6 L16,-3 L16,7.3 L4,-4.6 L4,19.5 L-4,19.5 L-4,-4.6 L-16,7.3 L-16,-3 Z" fill="#fff" transform="rotate(180)"/></svg>
<div class="b" style="left:645.0px;top:2073.22px;width:213.96px;height:64px;background:#6aa84f"></div>
<div class="b" style="left:858.96px;top:2073.22px;width:347.62px;height:64px;background:#cc0000"></div>
<div class="b" style="left:1206.58px;top:2073.22px;width:24.62px;height:64px;background:#999999;border-radius:0 3px 3px 0"></div>
<svg class="ph" style="left:92.50px;top:2072.72px" width="64" height="64" viewBox="-32 -32 64 64"><defs><clipPath id="c22"><circle r="29.7"/></clipPath></defs><g clip-path="url(#c22)"><path d="M-34,40 L-34,22.00 C-25.84,16.00 -16,12.00 -7,9.00 L7,9.00 C16,12.00 25.84,16.00 34,22.00 L34,40 Z" fill="#d8b0a0"/><path d="M-7.00,9.00 L7.00,9.00 L3,34 L-3,34 Z" fill="#f0f0f0"/><g transform="translate(0,9.00) scale(1.0) translate(0,-9)"><rect x="-6.5" y="2" width="13" height="8" fill="#c48a74"/><ellipse cx="0" cy="-3" rx="17.5" ry="22" fill="#c48a74"/><path d="M-17.5,-8 C-18.5,-34 18.5,-34 17.5,-8 C14,-21 -14,-21 -17.5,-8 Z" fill="#2e2620"/></g></g><circle r="30.0" fill="none" stroke="#b03040" stroke-width="1.4"/></svg>
<svg class="ph" style="left:1238.20px;top:2073.42px" width="62" height="62" viewBox="-31 -31 62 62"><circle r="29.6" fill="#e30000"/><path d="M0,-18.6 L16,-3 L16,7.3 L4,-4.6 L4,19.5 L-4,19.5 L-4,-4.6 L-16,7.3 L-16,-3 Z" fill="#fff" transform="rotate(180)"/></svg>
<div class="b" style="left:645.0px;top:2152.00px;width:212.20px;height:64px;background:#6aa84f"></div>
<div class="b" style="left:857.20px;top:2152.00px;width:352.31px;height:64px;background:#cc0000"></div>
<div class="b" style="left:1209.51px;top:2152.00px;width:21.69px;height:64px;background:#999999;border-radius:0 3px 3px 0"></div>
<svg class="ph" style="left:92.50px;top:2151.50px" width="64" height="64" viewBox="-32 -32 64 64"><defs><clipPath id="c23"><circle r="29.7"/></clipPath></defs><g clip-path="url(#c23)"><path d="M-34,40 L-34,14.80 C-25.84,8.80 -16,6.96 -7,3.96 L7,3.96 C16,6.96 25.84,8.80 34,14.80 L34,40 Z" fill="#202020"/><path d="M-5.74,3.96 L5.74,3.96 L3,34 L-3,34 Z" fill="#f4f4f4"/><g transform="translate(0,3.96) scale(0.82) translate(0,-9)"><rect x="-6.5" y="2" width="13" height="8" fill="#d4a894"/><ellipse cx="0" cy="-6" rx="15" ry="18.5" fill="#d4a894"/><path d="M-15.5,-7 C-16.5,-33 16.5,-33 15.5,-7 C12.5,-21 -12.5,-21 -15.5,-7 Z" fill="#a4a4a4"/></g></g><circle r="30.0" fill="none" stroke="#5080a0" stroke-width="1.4"/></svg>
<svg class="ph" style="left:1238.20px;top:2152.20px" width="62" height="62" viewBox="-31 -31 62 62"><circle r="29.6" fill="#e30000"/><path d="M0,-18.6 L16,-3 L16,7.3 L4,-4.6 L4,19.5 L-4,19.5 L-4,-4.6 L-16,7.3 L-16,-3 Z" fill="#fff" transform="rotate(180)"/></svg>
<div class="t" style="left:240.00px;top:41.14px;font-size:59px;line-height:59px;font-weight:700;color:#fff;transform:scaleX(0.9550);transform-origin:0 0;text-shadow:2px 4px 5px rgba(0,0,0,0.45);">RANKING DE IMAGEN POSITIVA</div>
<div class="t" style="left:180.00px;top:111.64px;font-size:59px;line-height:59px;font-weight:700;color:#fff;transform:scaleX(0.9754);transform-origin:0 0;text-shadow:2px 4px 5px rgba(0,0,0,0.45);">INTENDENTES</div>
<div class="t" style="left:598.00px;top:111.64px;font-size:59px;line-height:59px;font-weight:700;color:#fff;transform:scaleX(0.9487);transform-origin:0 0;text-shadow:2px 4px 5px rgba(0,0,0,0.45);">FED.</div>
<div class="t" style="left:739.00px;top:111.64px;font-size:59px;line-height:59px;font-weight:700;color:#fff;transform:scaleX(1.1646);transform-origin:0 0;text-shadow:2px 4px 5px rgba(0,0,0,0.45);">-</div>
<div class="t" style="left:772.40px;top:111.64px;font-size:59px;line-height:59px;font-weight:700;color:#fff;transform:scaleX(0.8873);transform-origin:0 0;text-shadow:2px 4px 5px rgba(0,0,0,0.45);">FEBRERO</div>
<div class="t" style="left:1040.60px;top:111.64px;font-size:59px;line-height:59px;font-weight:700;color:#fff;text-shadow:2px 4px 5px rgba(0,0,0,0.45);"><span style="display:inline-block;transform:scaleY(0.79);transform-origin:50% 49.9px">202</span>6</div>
<div class="t" style="left:12.40px;top:220.04px;font-size:30px;line-height:30px;font-weight:400;color:#111;transform:scaleX(0.9623);transform-origin:0 0;-webkit-text-stroke:0.7px #f1f1f1;">CBGLOBALDATA</div>
<svg class="ph" style="left:254.50px;top:212.20px" width="42.40" height="42.40" viewBox="254.50 212.20 42.40 42.40"><defs><radialGradient id="bg1" cx="45%" cy="40%" r="60%"><stop offset="0" stop-color="#3fb0f5"/><stop offset="1" stop-color="#1a78d6"/></radialGradient></defs><path d="M275.70,214.20L279.82,218.01L285.30,216.77L286.97,222.13L292.33,223.80L291.09,229.28L294.90,233.40L291.09,237.52L292.33,243.00L286.97,244.67L285.30,250.03L279.82,248.79L275.70,252.60L271.58,248.79L266.10,250.03L264.43,244.67L259.07,243.00L260.31,237.52L256.50,233.40L260.31,229.28L259.07,223.80L264.43,222.13L266.10,216.77L271.58,218.01L275.70,214.20Z" fill="url(#bg1)" stroke="url(#bg1)" stroke-width="2.30" stroke-linejoin="round"/><path d="M268.02,233.40 L273.78,239.35 L283.76,228.79" fill="none" stroke="#f4f8fc" stroke-width="3.26" stroke-linecap="round" stroke-linejoin="round"/></svg>
<div class="t" style="left:10.60px;top:264.32px;font-size:29.5px;line-height:29.5px;color:#111;transform:scaleX(1.0026);transform-origin:0 0"><span style="font-weight:400;-webkit-text-stroke:0.7px #f1f1f1">WWW.</span><span style="font-weight:700;">CBGLOBALDATA</span><span style="font-weight:400;-webkit-text-stroke:0.7px #f1f1f1">.COM</span></div>
<div class="b" style="left:651px;top:247px;width:46px;height:43px;background:#6aa84f"></div>
<div class="b" style="left:809.5px;top:247px;width:46.5px;height:43px;background:#cc0000"></div>
<div class="b" style="left:980.5px;top:247.5px;width:46.5px;height:43px;background:#b7b7b7"></div>
<div class="t" style="left:707.00px;top:258.41px;font-size:19.5px;line-height:19.5px;font-weight:700;color:#111;transform:scaleX(0.9844);transform-origin:0 0;">POSITIVA</div>
<div class="t" style="left:866.30px;top:258.41px;font-size:19.5px;line-height:19.5px;font-weight:700;color:#111;transform:scaleX(0.9770);transform-origin:0 0;">NEGATIVA</div>
<div class="t" style="left:1037.00px;top:258.41px;font-size:19.5px;line-height:19.5px;font-weight:700;color:#111;transform:scaleX(0.9762);transform-origin:0 0;">NS / NC</div>
<div class="t" style="left:1313.85px;top:241.71px;font-size:22px;line-height:22px;font-weight:700;color:#111;transform:scaleX(0.9807);transform-origin:0 0;">IMAGEN</div>
<div class="t" style="left:1306.90px;top:262.81px;font-size:22px;line-height:22px;font-weight:700;color:#111;transform:scaleX(0.9921);transform-origin:0 0;">POSITIVA</div>
<div class="t" style="left:1320.25px;top:283.91px;font-size:22px;line-height:22px;font-weight:700;color:#111;transform:scaleX(0.9866);transform-origin:0 0;">DIC./25</div>
<div class="t" style="left:-101.67px;top:613.71px;font-size:33.7px;line-height:33.7px;color:#fff;transform-origin:133.88px 16.94px;transform:rotate(-90deg) scaleX(0.8893);text-shadow:2px 2px 4px rgba(0,0,0,0.35)">LOS 8 MEJORES</div>
<div class="t" style="left:-109.20px;top:1233.86px;font-size:33px;line-height:33px;color:#fff;transform-origin:141.50px 16.59px;transform:rotate(-90deg) scaleX(0.9133);text-shadow:2px 2px 4px rgba(0,0,0,0.35)">LOS 8 DEL MEDIO</div>
<div class="t" style="left:-87.62px;top:1827.81px;font-size:33px;line-height:33px;color:#fff;transform-origin:120.12px 16.59px;transform:rotate(-90deg) scaleX(0.8797);text-shadow:2px 2px 4px rgba(0,0,0,0.35)">LOS 8 PEORES</div>
<div class="t" style="left:221.00px;top:348.49px;font-size:26.5px;line-height:26.5px;font-weight:700;color:#0a0a0a;">MATIAS STEVANATO</div>
<div class="t" style="left:221.00px;top:378.07px;font-size:21px;line-height:21px;font-weight:400;color:#111;">MAIPÚ</div>
<div class="t" style="left:175.25px;top:357.86px;font-size:30.5px;line-height:30.5px;font-weight:400;color:#111;transform:scaleX(0.85);transform-origin:50% 0;-webkit-text-stroke:0.25px #d2e0e5;">1.</div>
<div class="t" style="left:771.62px;top:354.49px;font-size:36px;line-height:36px;font-weight:700;color:#fff;transform:scaleX(0.9);transform-origin:50% 0;">60.6%</div>
<div class="t" style="left:1053.58px;top:354.49px;font-size:36px;line-height:36px;font-weight:700;color:#fff;transform:scaleX(0.9);transform-origin:50% 0;">35.6%</div>
<div class="t" style="left:1315.00px;top:351.38px;font-size:31px;line-height:31px;font-weight:400;color:#000;transform:scaleX(0.955);transform-origin:50% 0;">58.0%</div>
<div class="t" style="left:221.00px;top:421.79px;font-size:26.5px;line-height:26.5px;font-weight:700;color:#0a0a0a;">LEONARDO STELATTO</div>
<div class="t" style="left:221.00px;top:451.37px;font-size:21px;line-height:21px;font-weight:400;color:#111;">POSADAS</div>
<div class="t" style="left:175.25px;top:431.16px;font-size:30.5px;line-height:30.5px;font-weight:400;color:#111;transform:scaleX(0.85);transform-origin:50% 0;-webkit-text-stroke:0.25px #d2e0e5;">2.</div>
<div class="t" style="left:770.74px;top:433.27px;font-size:36px;line-height:36px;font-weight:700;color:#fff;transform:scaleX(0.9);transform-origin:50% 0;">60.3%</div>
<div class="t" style="left:1051.53px;top:433.27px;font-size:36px;line-height:36px;font-weight:700;color:#fff;transform:scaleX(0.9);transform-origin:50% 0;">35.5%</div>
<div class="t" style="left:1315.00px;top:430.26px;font-size:31px;line-height:31px;font-weight:400;color:#000;transform:scaleX(0.955);transform-origin:50% 0;">59.3%</div>
<div class="t" style="left:221.00px;top:500.49px;font-size:26.5px;line-height:26.5px;font-weight:700;color:#0a0a0a;">JORGE JOFRÉ</div>
<div class="t" style="left:221.00px;top:530.07px;font-size:21px;line-height:21px;font-weight:400;color:#111;">FORMOSA (CAPITAL)</div>
<div class="t" style="left:175.25px;top:509.86px;font-size:30.5px;line-height:30.5px;font-weight:400;color:#111;transform:scaleX(0.85);transform-origin:50% 0;-webkit-text-stroke:0.25px #d2e0e5;">3.</div>
<div class="t" style="left:769.57px;top:512.05px;font-size:36px;line-height:36px;font-weight:700;color:#fff;transform:scaleX(0.9);transform-origin:50% 0;">59.9%</div>
<div class="t" style="left:1048.31px;top:512.05px;font-size:36px;line-height:36px;font-weight:700;color:#fff;transform:scaleX(0.9);transform-origin:50% 0;">35.2%</div>
<div class="t" style="left:1315.00px;top:509.14px;font-size:31px;line-height:31px;font-weight:400;color:#000;transform:scaleX(0.955);transform-origin:50% 0;">59.7%</div>
<div class="t" style="left:221.00px;top:579.09px;font-size:26.5px;line-height:26.5px;font-weight:700;color:#0a0a0a;">ULPIANO SUÁREZ</div>
<div class="t" style="left:221.00px;top:608.67px;font-size:21px;line-height:21px;font-weight:400;color:#111;">MENDOZA (CAPITAL)</div>
<div class="t" style="left:175.25px;top:588.46px;font-size:30.5px;line-height:30.5px;font-weight:400;color:#111;transform:scaleX(0.85);transform-origin:50% 0;-webkit-text-stroke:0.25px #d2e0e5;">4.</div>
<div class="t" style="left:764.88px;top:590.83px;font-size:36px;line-height:36px;font-weight:700;color:#fff;transform:scaleX(0.9);transform-origin:50% 0;">58.3%</div>
<div class="t" style="left:1048.60px;top:590.83px;font-size:36px;line-height:36px;font-weight:700;color:#fff;transform:scaleX(0.9);transform-origin:50% 0;">38.5%</div>
<div class="t" style="left:1315.00px;top:588.02px;font-size:31px;line-height:31px;font-weight:400;color:#000;transform:scaleX(0.955);transform-origin:50% 0;">57.5%</div>
<div class="t" style="left:221.00px;top:658.79px;font-size:26.5px;line-height:26.5px;font-weight:700;color:#0a0a0a;">GUSTAVO SASTRE</div>
<div class="t" style="left:221.00px;top:688.37px;font-size:21px;line-height:21px;font-weight:400;color:#111;">PUERTO MADRYN</div>
<div class="t" style="left:175.25px;top:668.16px;font-size:30.5px;line-height:30.5px;font-weight:400;color:#111;transform:scaleX(0.85);transform-origin:50% 0;-webkit-text-stroke:0.25px #d2e0e5;">5.</div>
<div class="t" style="left:763.41px;top:669.62px;font-size:36px;line-height:36px;font-weight:700;color:#fff;transform:scaleX(0.9);transform-origin:50% 0;">57.8%</div>
<div class="t" style="left:1049.18px;top:669.62px;font-size:36px;line-height:36px;font-weight:700;color:#fff;transform:scaleX(0.9);transform-origin:50% 0;">39.7%</div>
<div class="t" style="left:1315.00px;top:666.90px;font-size:31px;line-height:31px;font-weight:400;color:#000;transform:scaleX(0.955);transform-origin:50% 0;">60.2%</div>
<div class="t" style="left:221.00px;top:737.49px;font-size:26.5px;line-height:26.5px;font-weight:700;color:#0a0a0a;">ROSSANA CHAHLA</div>
<div class="t" style="left:221.00px;top:767.07px;font-size:21px;line-height:21px;font-weight:400;color:#111;">SAN MIGUEL DE TUCUMÁN</div>
<div class="t" style="left:175.25px;top:746.86px;font-size:30.5px;line-height:30.5px;font-weight:400;color:#111;transform:scaleX(0.85);transform-origin:50% 0;-webkit-text-stroke:0.25px #d2e0e5;">6.</div>
<div class="t" style="left:761.65px;top:748.40px;font-size:36px;line-height:36px;font-weight:700;color:#fff;transform:scaleX(0.9);transform-origin:50% 0;">57.2%</div>
<div class="t" style="left:1045.08px;top:748.40px;font-size:36px;line-height:36px;font-weight:700;color:#fff;transform:scaleX(0.9);transform-origin:50% 0;">39.5%</div>
<div class="t" style="left:1315.00px;top:745.78px;font-size:31px;line-height:31px;font-weight:400;color:#000;transform:scaleX(0.955);transform-origin:50% 0;">58.6%</div>
<div class="t" style="left:221.00px;top:816.09px;font-size:26.5px;line-height:26.5px;font-weight:700;color:#0a0a0a;">LUCIANO DI NÁPOLI</div>
<div class="t" style="left:221.00px;top:845.67px;font-size:21px;line-height:21px;font-weight:400;color:#111;">SANTA ROSA (LA PAMPA)</div>
<div class="t" style="left:175.25px;top:825.46px;font-size:30.5px;line-height:30.5px;font-weight:400;color:#111;transform:scaleX(0.85);transform-origin:50% 0;-webkit-text-stroke:0.25px #d2e0e5;">7.</div>
<div class="t" style="left:759.60px;top:827.18px;font-size:36px;line-height:36px;font-weight:700;color:#fff;transform:scaleX(0.9);transform-origin:50% 0;">56.5%</div>
<div class="t" style="left:1037.75px;top:827.18px;font-size:36px;line-height:36px;font-weight:700;color:#fff;transform:scaleX(0.9);transform-origin:50% 0;">38.4%</div>
<div class="t" style="left:1315.00px;top:824.66px;font-size:31px;line-height:31px;font-weight:400;color:#000;transform:scaleX(0.955);transform-origin:50% 0;">56.8%</div>
<div class="t" style="left:221.00px;top:894.79px;font-size:26.5px;line-height:26.5px;font-weight:700;color:#0a0a0a;">SUSANA LACIAR</div>
<div class="t" style="left:221.00px;top:924.37px;font-size:21px;line-height:21px;font-weight:400;color:#111;">SAN JUAN (CAPITAL)</div>
<div class="t" style="left:175.25px;top:904.16px;font-size:30.5px;line-height:30.5px;font-weight:400;color:#111;transform:scaleX(0.85);transform-origin:50% 0;-webkit-text-stroke:0.25px #d2e0e5;">8.</div>
<div class="t" style="left:757.55px;top:905.97px;font-size:36px;line-height:36px;font-weight:700;color:#fff;transform:scaleX(0.9);transform-origin:50% 0;">55.8%</div>
<div class="t" style="left:1027.49px;top:905.97px;font-size:36px;line-height:36px;font-weight:700;color:#fff;transform:scaleX(0.9);transform-origin:50% 0;">36.3%</div>
<div class="t" style="left:1315.00px;top:903.54px;font-size:31px;line-height:31px;font-weight:400;color:#000;transform:scaleX(0.955);transform-origin:50% 0;">55.2%</div>
<div class="t" style="left:221.00px;top:974.09px;font-size:26.5px;line-height:26.5px;font-weight:700;color:#0a0a0a;">GASTÓN HISSA</div>
<div class="t" style="left:221.00px;top:1003.67px;font-size:21px;line-height:21px;font-weight:400;color:#111;">SAN LUIS (CAPITAL)</div>
<div class="t" style="left:175.25px;top:983.46px;font-size:30.5px;line-height:30.5px;font-weight:400;color:#111;transform:scaleX(0.85);transform-origin:50% 0;-webkit-text-stroke:0.25px #f6f1df;">9.</div>
<div class="t" style="left:751.39px;top:984.75px;font-size:36px;line-height:36px;font-weight:700;color:#fff;transform:scaleX(0.9);transform-origin:50% 0;">53.7%</div>
<div class="t" style="left:1026.32px;top:984.75px;font-size:36px;line-height:36px;font-weight:700;color:#fff;transform:scaleX(0.9);transform-origin:50% 0;">40.1%</div>
<div class="t" style="left:1315.00px;top:982.42px;font-size:31px;line-height:31px;font-weight:400;color:#000;transform:scaleX(0.955);transform-origin:50% 0;">52.4%</div>
<div class="t" style="left:221.00px;top:1053.09px;font-size:26.5px;line-height:26.5px;font-weight:700;color:#0a0a0a;">CLAUDIO POLICH</div>
<div class="t" style="left:221.00px;top:1082.67px;font-size:21px;line-height:21px;font-weight:400;color:#111;">CORRIENTES (CAPITAL)</div>
<div class="t" style="left:166.75px;top:1062.46px;font-size:30.5px;line-height:30.5px;font-weight:400;color:#111;transform:scaleX(0.85);transform-origin:50% 0;-webkit-text-stroke:0.25px #f6f1df;">10.</div>
<div class="t" style="left:745.83px;top:1063.53px;font-size:36px;line-height:36px;font-weight:700;color:#fff;transform:scaleX(0.9);transform-origin:50% 0;">51.8%</div>
<div class="t" style="left:1005.81px;top:1063.53px;font-size:36px;line-height:36px;font-weight:700;color:#fff;transform:scaleX(0.9);transform-origin:50% 0;">36.9%</div>
<div class="t" style="left:1315.00px;top:1061.30px;font-size:31px;line-height:31px;font-weight:400;color:#000;transform:scaleX(0.955);transform-origin:50% 0;">51.3%</div>
<div class="t" style="left:221.00px;top:1132.49px;font-size:26.5px;line-height:26.5px;font-weight:700;color:#0a0a0a;">ROSARIO ROMERO</div>
<div class="t" style="left:221.00px;top:1162.07px;font-size:21px;line-height:21px;font-weight:400;color:#111;">PARANÁ</div>
<div class="t" style="left:167.88px;top:1141.86px;font-size:30.5px;line-height:30.5px;font-weight:400;color:#111;transform:scaleX(0.85);transform-origin:50% 0;-webkit-text-stroke:0.25px #f6f1df;">11.</div>
<div class="t" style="left:744.95px;top:1142.31px;font-size:36px;line-height:36px;font-weight:700;color:#fff;transform:scaleX(0.9);transform-origin:50% 0;">51.5%</div>
<div class="t" style="left:1029.84px;top:1142.31px;font-size:36px;line-height:36px;font-weight:700;color:#fff;transform:scaleX(0.9);transform-origin:50% 0;">45.7%</div>
<div class="t" style="left:1315.00px;top:1140.18px;font-size:31px;line-height:31px;font-weight:400;color:#000;transform:scaleX(0.955);transform-origin:50% 0;">53.7%</div>
<div class="t" style="left:221.00px;top:1211.09px;font-size:26.5px;line-height:26.5px;font-weight:700;color:#0a0a0a;">DANIEL PASSERINI</div>
<div class="t" style="left:221.00px;top:1240.67px;font-size:21px;line-height:21px;font-weight:400;color:#111;">CÓRDOBA (CAPITAL)</div>
<div class="t" style="left:166.75px;top:1220.46px;font-size:30.5px;line-height:30.5px;font-weight:400;color:#111;transform:scaleX(0.85);transform-origin:50% 0;-webkit-text-stroke:0.25px #f6f1df;">12.</div>
<div class="t" style="left:741.43px;top:1221.10px;font-size:36px;line-height:36px;font-weight:700;color:#fff;transform:scaleX(0.9);transform-origin:50% 0;">50.3%</div>
<div class="t" style="left:1021.93px;top:1221.10px;font-size:36px;line-height:36px;font-weight:700;color:#fff;transform:scaleX(0.9);transform-origin:50% 0;">45.4%</div>
<div class="t" style="left:1315.00px;top:1219.06px;font-size:31px;line-height:31px;font-weight:400;color:#000;transform:scaleX(0.955);transform-origin:50% 0;">47.8%</div>
<div class="t" style="left:221.00px;top:1290.79px;font-size:26.5px;line-height:26.5px;font-weight:700;color:#0a0a0a;">PABLO JAVKIN</div>
<div class="t" style="left:221.00px;top:1320.37px;font-size:21px;line-height:21px;font-weight:400;color:#111;">ROSARIO</div>
<div class="t" style="left:166.75px;top:1300.16px;font-size:30.5px;line-height:30.5px;font-weight:400;color:#111;transform:scaleX(0.85);transform-origin:50% 0;-webkit-text-stroke:0.25px #f6f1df;">13.</div>
<div class="t" style="left:737.62px;top:1299.88px;font-size:36px;line-height:36px;font-weight:700;color:#fff;transform:scaleX(0.9);transform-origin:50% 0;">49.0%</div>
<div class="t" style="left:1021.05px;top:1299.88px;font-size:36px;line-height:36px;font-weight:700;color:#fff;transform:scaleX(0.9);transform-origin:50% 0;">47.7%</div>
<div class="t" style="left:1315.00px;top:1297.94px;font-size:31px;line-height:31px;font-weight:400;color:#000;transform:scaleX(0.955);transform-origin:50% 0;">48.5%</div>
<div class="t" style="left:221.00px;top:1360.79px;font-size:26.5px;line-height:26.5px;font-weight:700;color:#0a0a0a;">GUSTAVO SAADI</div>
<div class="t" style="left:221.00px;top:1390.37px;font-size:21px;line-height:21px;font-weight:400;color:#111;">SAN FERNANDO DEL VALLE DE</div>
<div class="t" style="left:221.00px;top:1413.67px;font-size:21px;line-height:21px;font-weight:400;color:#111;">CATAMARCA</div>
<div class="t" style="left:166.75px;top:1380.86px;font-size:30.5px;line-height:30.5px;font-weight:400;color:#111;transform:scaleX(0.85);transform-origin:50% 0;-webkit-text-stroke:0.25px #f6f1df;">14.</div>
<div class="t" style="left:729.41px;top:1378.66px;font-size:36px;line-height:36px;font-weight:700;color:#fff;transform:scaleX(0.9);transform-origin:50% 0;">46.2%</div>
<div class="t" style="left:1005.81px;top:1378.66px;font-size:36px;line-height:36px;font-weight:700;color:#fff;transform:scaleX(0.9);transform-origin:50% 0;">48.1%</div>
<div class="t" style="left:1315.00px;top:1376.82px;font-size:31px;line-height:31px;font-weight:400;color:#000;transform:scaleX(0.955);transform-origin:50% 0;">46.8%</div>
<div class="t" style="left:221.00px;top:1452.79px;font-size:26.5px;line-height:26.5px;font-weight:700;color:#0a0a0a;">WALTER VUOTO</div>
<div class="t" style="left:221.00px;top:1482.37px;font-size:21px;line-height:21px;font-weight:400;color:#111;">USHUAIA</div>
<div class="t" style="left:166.75px;top:1462.16px;font-size:30.5px;line-height:30.5px;font-weight:400;color:#111;transform:scaleX(0.85);transform-origin:50% 0;-webkit-text-stroke:0.25px #f6f1df;">15.</div>
<div class="t" style="left:721.50px;top:1457.44px;font-size:36px;line-height:36px;font-weight:700;color:#fff;transform:scaleX(0.9);transform-origin:50% 0;">43.5%</div>
<div class="t" style="left:1004.05px;top:1457.44px;font-size:36px;line-height:36px;font-weight:700;color:#fff;transform:scaleX(0.9);transform-origin:50% 0;">52.9%</div>
<div class="t" style="left:1315.00px;top:1455.70px;font-size:31px;line-height:31px;font-weight:400;color:#000;transform:scaleX(0.955);transform-origin:50% 0;">40.8%</div>
<div class="t" style="left:221.00px;top:1531.49px;font-size:26.5px;line-height:26.5px;font-weight:700;color:#0a0a0a;">NORMA FUENTES</div>
<div class="t" style="left:221.00px;top:1561.07px;font-size:21px;line-height:21px;font-weight:400;color:#111;">SANTIAGO DEL ESTERO (CAPITAL)</div>
<div class="t" style="left:166.75px;top:1540.86px;font-size:30.5px;line-height:30.5px;font-weight:400;color:#111;transform:scaleX(0.85);transform-origin:50% 0;-webkit-text-stroke:0.25px #f6f1df;">16.</div>
<div class="t" style="left:715.93px;top:1536.23px;font-size:36px;line-height:36px;font-weight:700;color:#fff;transform:scaleX(0.9);transform-origin:50% 0;">41.6%</div>
<div class="t" style="left:994.08px;top:1536.23px;font-size:36px;line-height:36px;font-weight:700;color:#fff;transform:scaleX(0.9);transform-origin:50% 0;">53.3%</div>
<div class="t" style="left:1315.00px;top:1534.58px;font-size:31px;line-height:31px;font-weight:400;color:#000;transform:scaleX(0.955);transform-origin:50% 0;">44.1%</div>
<div class="t" style="left:221.00px;top:1609.79px;font-size:26.5px;line-height:26.5px;font-weight:700;color:#0a0a0a;">ROY NIKISCH</div>
<div class="t" style="left:221.00px;top:1639.37px;font-size:21px;line-height:21px;font-weight:400;color:#111;">RESISTENCIA</div>
<div class="t" style="left:166.75px;top:1619.16px;font-size:30.5px;line-height:30.5px;font-weight:400;color:#111;transform:scaleX(0.85);transform-origin:50% 0;-webkit-text-stroke:0.25px #f2e6e9;">17.</div>
<div class="t" style="left:708.90px;top:1615.01px;font-size:36px;line-height:36px;font-weight:700;color:#fff;transform:scaleX(0.9);transform-origin:50% 0;">39.2%</div>
<div class="t" style="left:991.15px;top:1615.01px;font-size:36px;line-height:36px;font-weight:700;color:#fff;transform:scaleX(0.9);transform-origin:50% 0;">57.1%</div>
<div class="t" style="left:1315.00px;top:1613.46px;font-size:31px;line-height:31px;font-weight:400;color:#000;transform:scaleX(0.955);transform-origin:50% 0;">37.5%</div>
<div class="t" style="left:221.00px;top:1689.09px;font-size:26.5px;line-height:26.5px;font-weight:700;color:#0a0a0a;">MARIANO GAIDO</div>
<div class="t" style="left:221.00px;top:1718.67px;font-size:21px;line-height:21px;font-weight:400;color:#111;">NEUQUÉN (CAPITAL)</div>
<div class="t" style="left:166.75px;top:1698.46px;font-size:30.5px;line-height:30.5px;font-weight:400;color:#111;transform:scaleX(0.85);transform-origin:50% 0;-webkit-text-stroke:0.25px #f2e6e9;">18.</div>
<div class="t" style="left:706.84px;top:1693.79px;font-size:36px;line-height:36px;font-weight:700;color:#fff;transform:scaleX(0.9);transform-origin:50% 0;">38.5%</div>
<div class="t" style="left:985.29px;top:1693.79px;font-size:36px;line-height:36px;font-weight:700;color:#fff;transform:scaleX(0.9);transform-origin:50% 0;">56.5%</div>
<div class="t" style="left:1315.00px;top:1692.34px;font-size:31px;line-height:31px;font-weight:400;color:#000;transform:scaleX(0.955);transform-origin:50% 0;">38.4%</div>
<div class="t" style="left:221.00px;top:1772.49px;font-size:26.5px;line-height:26.5px;font-weight:700;color:#0a0a0a;">RAÚL JORGE</div>
<div class="t" style="left:221.00px;top:1802.07px;font-size:21px;line-height:21px;font-weight:400;color:#111;">SAN SALVADOR DE JUJUY</div>
<div class="t" style="left:166.75px;top:1781.86px;font-size:30.5px;line-height:30.5px;font-weight:400;color:#111;transform:scaleX(0.85);transform-origin:50% 0;-webkit-text-stroke:0.25px #f2e6e9;">19.</div>
<div class="t" style="left:705.67px;top:1772.57px;font-size:36px;line-height:36px;font-weight:700;color:#fff;transform:scaleX(0.9);transform-origin:50% 0;">38.1%</div>
<div class="t" style="left:988.22px;top:1772.57px;font-size:36px;line-height:36px;font-weight:700;color:#fff;transform:scaleX(0.9);transform-origin:50% 0;">58.3%</div>
<div class="t" style="left:1315.00px;top:1771.22px;font-size:31px;line-height:31px;font-weight:400;color:#000;transform:scaleX(0.955);transform-origin:50% 0;">36.9%</div>
<div class="t" style="left:221.00px;top:1854.49px;font-size:26.5px;line-height:26.5px;font-weight:700;color:#0a0a0a;">ARMANDO MOLINA</div>
<div class="t" style="left:221.00px;top:1884.07px;font-size:21px;line-height:21px;font-weight:400;color:#111;">LA RIOJA (CAPITAL)</div>
<div class="t" style="left:166.75px;top:1863.86px;font-size:30.5px;line-height:30.5px;font-weight:400;color:#111;transform:scaleX(0.85);transform-origin:50% 0;-webkit-text-stroke:0.25px #f2e6e9;">20.</div>
<div class="t" style="left:705.38px;top:1851.36px;font-size:36px;line-height:36px;font-weight:700;color:#fff;transform:scaleX(0.9);transform-origin:50% 0;">38.0%</div>
<div class="t" style="left:988.81px;top:1851.36px;font-size:36px;line-height:36px;font-weight:700;color:#fff;transform:scaleX(0.9);transform-origin:50% 0;">58.7%</div>
<div class="t" style="left:1315.00px;top:1850.10px;font-size:31px;line-height:31px;font-weight:400;color:#000;transform:scaleX(0.955);transform-origin:50% 0;">36.5%</div>
<div class="t" style="left:221.00px;top:1933.49px;font-size:26.5px;line-height:26.5px;font-weight:700;color:#0a0a0a;">WALTER CORTÉS</div>
<div class="t" style="left:221.00px;top:1963.07px;font-size:21px;line-height:21px;font-weight:400;color:#111;">SAN CARLOS DE BARILOCHE</div>
<div class="t" style="left:166.75px;top:1942.86px;font-size:30.5px;line-height:30.5px;font-weight:400;color:#111;transform:scaleX(0.85);transform-origin:50% 0;-webkit-text-stroke:0.25px #f2e6e9;">21.</div>
<div class="t" style="left:703.33px;top:1930.14px;font-size:36px;line-height:36px;font-weight:700;color:#fff;transform:scaleX(0.9);transform-origin:50% 0;">37.3%</div>
<div class="t" style="left:989.68px;top:1930.14px;font-size:36px;line-height:36px;font-weight:700;color:#fff;transform:scaleX(0.9);transform-origin:50% 0;">60.4%</div>
<div class="t" style="left:1315.00px;top:1928.98px;font-size:31px;line-height:31px;font-weight:400;color:#000;transform:scaleX(0.955);transform-origin:50% 0;">35.1%</div>
<div class="t" style="left:221.00px;top:2012.79px;font-size:26.5px;line-height:26.5px;font-weight:700;color:#0a0a0a;">PABLO GRASSO</div>
<div class="t" style="left:221.00px;top:2042.37px;font-size:21px;line-height:21px;font-weight:400;color:#111;">RÍO GALLEGOS</div>
<div class="t" style="left:166.75px;top:2022.16px;font-size:30.5px;line-height:30.5px;font-weight:400;color:#111;transform:scaleX(0.85);transform-origin:50% 0;-webkit-text-stroke:0.25px #f2e6e9;">22.</div>
<div class="t" style="left:701.86px;top:2008.92px;font-size:36px;line-height:36px;font-weight:700;color:#fff;transform:scaleX(0.9);transform-origin:50% 0;">36.8%</div>
<div class="t" style="left:985.00px;top:2008.92px;font-size:36px;line-height:36px;font-weight:700;color:#fff;transform:scaleX(0.9);transform-origin:50% 0;">59.8%</div>
<div class="t" style="left:1315.00px;top:2007.86px;font-size:31px;line-height:31px;font-weight:400;color:#000;transform:scaleX(0.955);transform-origin:50% 0;">37.0%</div>
<div class="t" style="left:221.00px;top:2091.49px;font-size:26.5px;line-height:26.5px;font-weight:700;color:#0a0a0a;">EMILIANO DURAND</div>
<div class="t" style="left:221.00px;top:2121.07px;font-size:21px;line-height:21px;font-weight:400;color:#111;">SALTA (CAPITAL)</div>
<div class="t" style="left:166.75px;top:2100.86px;font-size:30.5px;line-height:30.5px;font-weight:400;color:#111;transform:scaleX(0.85);transform-origin:50% 0;-webkit-text-stroke:0.25px #f2e6e9;">23.</div>
<div class="t" style="left:700.98px;top:2087.70px;font-size:36px;line-height:36px;font-weight:700;color:#fff;transform:scaleX(0.9);transform-origin:50% 0;">36.5%</div>
<div class="t" style="left:981.77px;top:2087.70px;font-size:36px;line-height:36px;font-weight:700;color:#fff;transform:scaleX(0.9);transform-origin:50% 0;">59.3%</div>
<div class="t" style="left:1315.00px;top:2086.74px;font-size:31px;line-height:31px;font-weight:400;color:#000;transform:scaleX(0.955);transform-origin:50% 0;">37.3%</div>
<div class="t" style="left:221.00px;top:2164.79px;font-size:26.5px;line-height:26.5px;font-weight:700;color:#0a0a0a;">JULIO ALAK</div>
<div class="t" style="left:221.00px;top:2194.37px;font-size:21px;line-height:21px;font-weight:400;color:#111;">LA PLATA</div>
<div class="t" style="left:166.75px;top:2174.16px;font-size:30.5px;line-height:30.5px;font-weight:400;color:#111;transform:scaleX(0.85);transform-origin:50% 0;-webkit-text-stroke:0.25px #f2e6e9;">24.</div>
<div class="t" style="left:700.10px;top:2166.49px;font-size:36px;line-height:36px;font-weight:700;color:#fff;transform:scaleX(0.9);transform-origin:50% 0;">36.2%</div>
<div class="t" style="left:982.36px;top:2166.49px;font-size:36px;line-height:36px;font-weight:700;color:#fff;transform:scaleX(0.9);transform-origin:50% 0;">60.1%</div>
<div class="t" style="left:1315.00px;top:2165.62px;font-size:31px;line-height:31px;font-weight:400;color:#000;transform:scaleX(0.955);transform-origin:50% 0;">36.4%</div>
<div style="position:absolute;left:0;top:0;width:1417px;height:2362px;clip-path:inset(0 182px 0 0)">
<div class="t" style="left:1197.81px;top:362.91px;font-size:19.5px;line-height:19.5px;font-weight:700;color:#fff;text-shadow:0 0 2px rgba(80,80,80,0.9);">3.8%</div>
<div class="t" style="left:1196.64px;top:441.69px;font-size:19.5px;line-height:19.5px;font-weight:700;color:#fff;text-shadow:0 0 2px rgba(80,80,80,0.9);">4.2%</div>
<div class="t" style="left:1194.59px;top:520.47px;font-size:19.5px;line-height:19.5px;font-weight:700;color:#fff;text-shadow:0 0 2px rgba(80,80,80,0.9);">4.9%</div>
<div class="t" style="left:1199.57px;top:599.25px;font-size:19.5px;line-height:19.5px;font-weight:700;color:#fff;text-shadow:0 0 2px rgba(80,80,80,0.9);">3.2%</div>
<div class="t" style="left:1201.62px;top:678.04px;font-size:19.5px;line-height:19.5px;font-weight:700;color:#fff;text-shadow:0 0 2px rgba(80,80,80,0.9);">2.5%</div>
<div class="t" style="left:1199.28px;top:756.82px;font-size:19.5px;line-height:19.5px;font-weight:700;color:#fff;text-shadow:0 0 2px rgba(80,80,80,0.9);">3.3%</div>
<div class="t" style="left:1194.00px;top:835.60px;font-size:19.5px;line-height:19.5px;font-weight:700;color:#fff;text-shadow:0 0 2px rgba(80,80,80,0.9);">5.1%</div>
<div class="t" style="left:1185.80px;top:914.38px;font-size:19.5px;line-height:19.5px;font-weight:700;color:#fff;text-shadow:0 0 2px rgba(80,80,80,0.9);">7.9%</div>
<div class="t" style="left:1190.78px;top:993.17px;font-size:19.5px;line-height:19.5px;font-weight:700;color:#fff;text-shadow:0 0 2px rgba(80,80,80,0.9);">6.2%</div>
<div class="t" style="left:1173.70px;top:1073.77px;font-size:17.5px;line-height:17.5px;font-weight:700;color:#fff;transform:scaleX(1.1);transform-origin:50% 0;text-shadow:0 0 2px rgba(80,80,80,0.9);">11.3%</div>
<div class="t" style="left:1200.74px;top:1150.73px;font-size:19.5px;line-height:19.5px;font-weight:700;color:#fff;text-shadow:0 0 2px rgba(80,80,80,0.9);">2.8%</div>
<div class="t" style="left:1196.35px;top:1229.51px;font-size:19.5px;line-height:19.5px;font-weight:700;color:#fff;text-shadow:0 0 2px rgba(80,80,80,0.9);">4.3%</div>
<div class="t" style="left:1199.28px;top:1308.30px;font-size:19.5px;line-height:19.5px;font-weight:700;color:#fff;text-shadow:0 0 2px rgba(80,80,80,0.9);">3.3%</div>
<div class="t" style="left:1192.24px;top:1387.08px;font-size:19.5px;line-height:19.5px;font-weight:700;color:#fff;text-shadow:0 0 2px rgba(80,80,80,0.9);">5.7%</div>
<div class="t" style="left:1198.40px;top:1465.86px;font-size:19.5px;line-height:19.5px;font-weight:700;color:#fff;text-shadow:0 0 2px rgba(80,80,80,0.9);">3.6%</div>
<div class="t" style="left:1194.00px;top:1544.64px;font-size:19.5px;line-height:19.5px;font-weight:700;color:#fff;text-shadow:0 0 2px rgba(80,80,80,0.9);">5.1%</div>
<div class="t" style="left:1198.11px;top:1623.43px;font-size:19.5px;line-height:19.5px;font-weight:700;color:#fff;text-shadow:0 0 2px rgba(80,80,80,0.9);">3.7%</div>
<div class="t" style="left:1194.30px;top:1702.21px;font-size:19.5px;line-height:19.5px;font-weight:700;color:#fff;text-shadow:0 0 2px rgba(80,80,80,0.9);">5.0%</div>
<div class="t" style="left:1198.40px;top:1780.99px;font-size:19.5px;line-height:19.5px;font-weight:700;color:#fff;text-shadow:0 0 2px rgba(80,80,80,0.9);">3.6%</div>
<div class="t" style="left:1199.28px;top:1859.78px;font-size:19.5px;line-height:19.5px;font-weight:700;color:#fff;text-shadow:0 0 2px rgba(80,80,80,0.9);">3.3%</div>
<div class="t" style="left:1202.21px;top:1938.56px;font-size:19.5px;line-height:19.5px;font-weight:700;color:#fff;text-shadow:0 0 2px rgba(80,80,80,0.9);">2.3%</div>
<div class="t" style="left:1198.98px;top:2017.34px;font-size:19.5px;line-height:19.5px;font-weight:700;color:#fff;text-shadow:0 0 2px rgba(80,80,80,0.9);">3.4%</div>
<div class="t" style="left:1196.64px;top:2096.12px;font-size:19.5px;line-height:19.5px;font-weight:700;color:#fff;text-shadow:0 0 2px rgba(80,80,80,0.9);">4.2%</div>
<div class="t" style="left:1198.11px;top:2174.91px;font-size:19.5px;line-height:19.5px;font-weight:700;color:#fff;text-shadow:0 0 2px rgba(80,80,80,0.9);">3.7%</div>
</div>
<div class="t" style="left:27.50px;top:2270.66px;font-size:30.5px;line-height:30.5px;font-weight:400;color:#fff;transform:scaleX(0.9524);transform-origin:0 0;-webkit-text-stroke:0.7px #000;">CBGLOBALDATA</div>
<svg class="ph" style="left:271.70px;top:2265.20px" width="45.60" height="45.60" viewBox="271.70 2265.20 45.60 45.60"><defs><radialGradient id="bg2" cx="45%" cy="40%" r="60%"><stop offset="0" stop-color="#3fb0f5"/><stop offset="1" stop-color="#1a78d6"/></radialGradient></defs><path d="M294.50,2267.20L298.97,2271.32L304.90,2269.99L306.71,2275.79L312.51,2277.60L311.18,2283.53L315.30,2288.00L311.18,2292.47L312.51,2298.40L306.71,2300.21L304.90,2306.01L298.97,2304.68L294.50,2308.80L290.03,2304.68L284.10,2306.01L282.29,2300.21L276.49,2298.40L277.82,2292.47L273.70,2288.00L277.82,2283.53L276.49,2277.60L282.29,2275.79L284.10,2269.99L290.03,2271.32L294.50,2267.20Z" fill="url(#bg2)" stroke="url(#bg2)" stroke-width="2.50" stroke-linejoin="round"/><path d="M286.18,2288.00 L292.42,2294.45 L303.24,2283.01" fill="none" stroke="#f4f8fc" stroke-width="3.54" stroke-linecap="round" stroke-linejoin="round"/></svg>
<div class="t" style="left:956.80px;top:2270.62px;font-size:29.5px;line-height:29.5px;color:#fff;transform:scaleX(1.0106);transform-origin:0 0"><span style="font-weight:400;-webkit-text-stroke:0.7px #000">WWW.</span><span style="font-weight:700;">CBGLOBALDATA</span><span style="font-weight:400;-webkit-text-stroke:0.7px #000">.COM</span></div>
<svg class="ph" style="left:900px;top:2252px" width="56" height="68" viewBox="0 0 56 68">
<circle cx="21.8" cy="17.7" r="12.8" fill="none" stroke="#777" stroke-width="2"/>
<circle cx="21.8" cy="17.7" r="7.6" fill="none" stroke="#888" stroke-width="2"/>
<path d="M19,45.5 L19,18.5 A3.4,3.4 0 0 1 25.8,18.5 L25.8,31 A3.6,3.6 0 0 1 33,31 L33,33 A3.8,3.8 0 0 1 40.6,33 L40.6,36 A3.7,3.7 0 0 1 48,36 L48,52 C48,60 45,62 40,62 L26,62 C22,62 20,60 18,57 L8,47 C5,44 8,40 12,42 Z" fill="#000"/>
<path d="M19,45.5 L19,18.5 A3.4,3.4 0 0 1 25.8,18.5 L25.8,38.5 M25.8,31 A3.6,3.6 0 0 1 33,31 L33,39 M33,33 A3.8,3.8 0 0 1 40.6,33 L40.6,39.5 M40.6,36 A3.7,3.7 0 0 1 48,36 L48,52 C48,60 45,62 40,62 L26,62 C22,62 20,60 18,57 L8,47 C5,44 8,40 12,42 L19,45.5" fill="none" stroke="#f2f2f2" stroke-width="2" stroke-linejoin="round" stroke-linecap="round"/>
</svg>
</body></html>
